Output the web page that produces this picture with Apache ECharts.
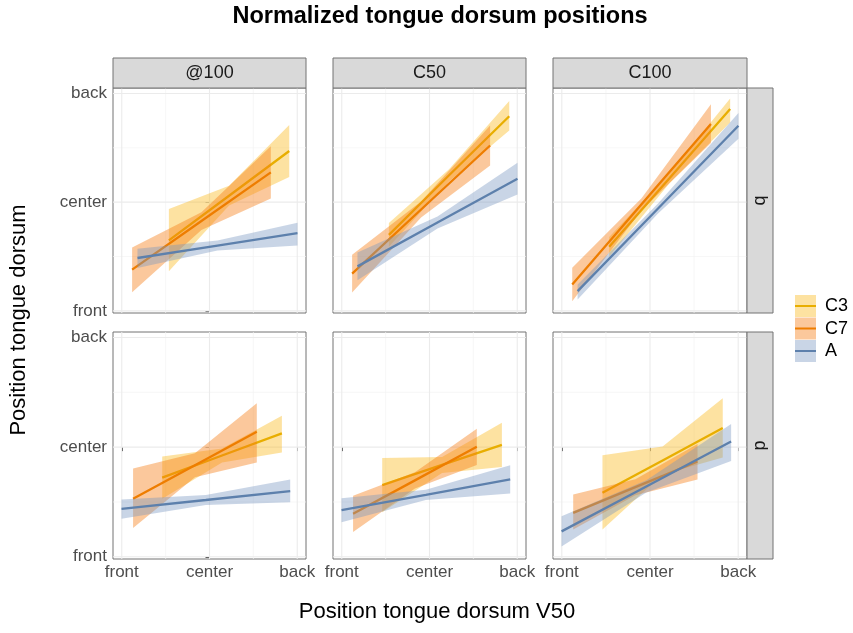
<!DOCTYPE html>
<html><head><meta charset="utf-8">
<script src="https://cdn.jsdelivr.net/npm/echarts@6/dist/echarts.min.js"></script>
<style>html,body{margin:0;padding:0;background:#fff}#c{width:853px;height:633px}</style>
</head><body><div id="c"></div><script>
// ---------- facets, groups, ticks ----------
const columns = ['@100', 'C50', 'C100'];
const rows = ['b', 'd'];
const groups = ['C3', 'C7', 'A'];
const tickValues = [-1, 0, 1];
const tickLabels = ['front', 'center', 'back'];
const minorValues = [-0.5, 0.5];

// ---------- smooth fits: [x, fit, lower, upper] ----------
const b_at100_C3 = [[-0.463, -0.352, -0.637, -0.064], [0.223, 0.059, -0.032, 0.151], [0.909, 0.470, 0.231, 0.710]];
const b_at100_C7 = [[-0.882, -0.621, -0.828, -0.417], [-0.092, -0.174, -0.256, -0.092], [0.699, 0.274, 0.034, 0.514]];
const b_at100_A  = [[-0.821, -0.514, -0.605, -0.429], [0.091, -0.400, -0.446, -0.354], [1.003, -0.286, -0.399, -0.189]];

const b_C50_C3 = [[-0.463, -0.301, -0.411, -0.191], [0.223, 0.247, 0.192, 0.302], [0.909, 0.790, 0.660, 0.930]];
const b_C50_C7 = [[-0.882, -0.658, -0.832, -0.484], [-0.096, -0.068, -0.141, 0.005], [0.691, 0.521, 0.338, 0.704]];
const b_C50_A  = [[-0.821, -0.591, -0.719, -0.463], [0.091, -0.187, -0.242, -0.132], [1.003, 0.216, 0.070, 0.362]];

const b_C100_C3 = [[-0.463, -0.411, -0.502, -0.320], [0.223, 0.222, 0.176, 0.268], [0.909, 0.856, 0.733, 0.953]];
const b_C100_C7 = [[-0.882, -0.758, -0.913, -0.603], [-0.096, -0.020, -0.075, 0.035], [0.691, 0.719, 0.545, 0.901]];
const b_C100_A  = [[-0.821, -0.819, -0.895, -0.758], [0.091, -0.058, -0.104, -0.012], [1.003, 0.703, 0.582, 0.819]];

const d_at100_C3 = [[-0.539, -0.278, -0.471, -0.085], [0.143, -0.076, -0.140, -0.012], [0.825, 0.126, -0.049, 0.287]];
const d_at100_C7 = [[-0.871, -0.471, -0.737, -0.195], [-0.166, -0.165, -0.275, -0.055], [0.539, 0.140, -0.140, 0.401]];
const d_at100_A  = [[-1.003, -0.562, -0.654, -0.477], [-0.042, -0.482, -0.528, -0.436], [0.920, -0.401, -0.502, -0.294]];

const d_C50_C3 = [[-0.539, -0.346, -0.594, -0.098], [0.143, -0.162, -0.235, -0.089], [0.825, 0.021, -0.181, 0.223]];
const d_C50_C7 = [[-0.871, -0.608, -0.773, -0.443], [-0.166, -0.303, -0.376, -0.230], [0.539, 0.003, -0.162, 0.168]];
const d_C50_A  = [[-1.003, -0.575, -0.685, -0.465], [-0.042, -0.435, -0.481, -0.389], [0.920, -0.294, -0.422, -0.166]];

const d_C100_C3 = [[-0.539, -0.416, -0.752, -0.073], [0.143, -0.121, -0.249, 0.007], [0.825, 0.174, -0.094, 0.447]];
const d_C100_C7 = [[-0.871, -0.599, -0.752, -0.431], [-0.166, -0.365, -0.438, -0.292], [0.539, -0.131, -0.294, 0.028]];
const d_C100_A  = [[-1.003, -0.768, -0.906, -0.630], [-0.042, -0.358, -0.413, -0.303], [0.920, 0.052, -0.126, 0.211]];

const panelData = [
  [b_at100_C3, b_at100_C7, b_at100_A], [b_C50_C3, b_C50_C7, b_C50_A], [b_C100_C3, b_C100_C7, b_C100_A],
  [d_at100_C3, d_at100_C7, d_at100_A], [d_C50_C3, d_C50_C7, d_C50_A], [d_C100_C3, d_C100_C7, d_C100_A]
];

// ---------- styling / layout ----------
const FONT = '"Liberation Sans", Arial, Helvetica, sans-serif';
const lineColors = ['#E8AE00', '#EE7D00', '#5D80AC'];
const bandColors = ['rgba(250,187,30,0.42)', 'rgba(245,125,20,0.42)', 'rgba(120,150,192,0.40)'];
const colLeft = [113, 333, 553], colWidth = [193, 193, 194];
const rowTop = [88, 332], rowHeight = [225, 227];
const xRange = [-1.1, 1.1], yRange = [-1.02, 1.05];

const chart = echarts.init(document.getElementById('c'), null, { renderer: 'canvas' });
const grid = [], xAxis = [], yAxis = [], series = [];
const labelFmt = v => { const i = tickValues.indexOf(v); return i >= 0 ? tickLabels[i] : ''; };

for (let r = 0; r < 2; r++) {
  for (let c = 0; c < 3; c++) {
    const i = r * 3 + c;
    grid.push({ left: colLeft[c], top: rowTop[r], width: colWidth[c], height: rowHeight[r],
      show: true, borderColor: '#737373', borderWidth: 1, backgroundColor: '#fff', containLabel: false });
    xAxis.push({ gridIndex: i, type: 'value', min: xRange[0], max: xRange[1], show: r === 1,
      axisLine: { show: false }, splitLine: { show: false },
      axisTick: { show: true, customValues: tickValues, length: 4, lineStyle: { color: '#333', width: 1 } },
      axisLabel: { show: true, customValues: tickValues, formatter: labelFmt, color: '#4d4d4d',
        fontSize: 17, fontFamily: FONT, margin: 5 } });
    yAxis.push({ gridIndex: i, type: 'value', min: yRange[0], max: yRange[1], show: c === 0,
      axisLine: { show: false }, splitLine: { show: false },
      axisTick: { show: true, customValues: tickValues, length: 4, lineStyle: { color: '#333', width: 1 } },
      axisLabel: { show: true, customValues: tickValues, formatter: labelFmt, color: '#4d4d4d',
        fontSize: 17, fontFamily: FONT, margin: 6 } });
    // panel grid lines (drawn through the axes' scales)
    series.push({ type: 'custom', xAxisIndex: i, yAxisIndex: i, data: [[xRange[0], yRange[0]]], z: 1, silent: true,
      renderItem: (p, api) => {
        const ch = [];
        const add = (a, b, col, w) => ch.push({ type: 'line', shape: { x1: a[0], y1: a[1], x2: b[0], y2: b[1] },
          style: { stroke: col, lineWidth: w } });
        minorValues.forEach(v => {
          add(api.coord([v, yRange[0]]), api.coord([v, yRange[1]]), '#f3f3f3', 0.7);
          add(api.coord([xRange[0], v]), api.coord([xRange[1], v]), '#f3f3f3', 0.7);
        });
        tickValues.forEach(v => {
          add(api.coord([v, yRange[0]]), api.coord([v, yRange[1]]), '#ebebeb', 1.1);
          add(api.coord([xRange[0], v]), api.coord([xRange[1], v]), '#ebebeb', 1.1);
        });
        return { type: 'group', children: ch };
      } });
    panelData[i].forEach((d, g) => {
      series.push({ type: 'custom', name: groups[g], xAxisIndex: i, yAxisIndex: i, data: d, z: 2 + 2 * g,
        silent: true, encode: { x: 0, y: [1, 2, 3] },
        renderItem: (p, api) => {
          if (p.dataIndex !== 0) return null;
          const up = d.map(row => api.coord([row[0], row[3]]));
          const lo = d.map(row => api.coord([row[0], row[2]])).reverse();
          return { type: 'polygon', shape: { points: up.concat(lo) }, style: { fill: bandColors[g] } };
        } });
      series.push({ type: 'line', name: groups[g], xAxisIndex: i, yAxisIndex: i, z: 3 + 2 * g,
        data: d.map(row => [row[0], row[1]]), showSymbol: false, symbol: 'none', silent: true,
        lineStyle: { color: lineColors[g], width: 2.3 } });
    });
  }
}

// ---------- strips, titles, legend ----------
const graphic = [];
columns.forEach((t, c) => {
  graphic.push({ type: 'rect', shape: { x: colLeft[c], y: 58, width: colWidth[c], height: 30 },
    style: { fill: '#d9d9d9', stroke: '#737373', lineWidth: 1 }, z: 10 });
  graphic.push({ type: 'text', x: colLeft[c] + colWidth[c] / 2, y: 73, z: 11,
    style: { text: t, font: '18px ' + FONT, fill: '#1a1a1a', align: 'center', verticalAlign: 'middle' } });
});
rows.forEach((t, r) => {
  graphic.push({ type: 'rect', shape: { x: 747, y: rowTop[r], width: 26, height: rowHeight[r] },
    style: { fill: '#d9d9d9', stroke: '#737373', lineWidth: 1 }, z: 10 });
  graphic.push({ type: 'text', x: 760, y: rowTop[r] + rowHeight[r] / 2, rotation: -Math.PI / 2, z: 11,
    style: { text: t, font: '18px ' + FONT, fill: '#1a1a1a', align: 'center', verticalAlign: 'middle' } });
});
graphic.push({ type: 'text', x: 440, y: 17, z: 11,
  style: { text: 'Normalized tongue dorsum positions', font: 'bold 23.5px ' + FONT, fill: '#000',
    align: 'center', verticalAlign: 'middle' } });
graphic.push({ type: 'text', x: 437, y: 612, z: 11,
  style: { text: 'Position tongue dorsum V50', font: '22px ' + FONT, fill: '#000',
    align: 'center', verticalAlign: 'middle' } });
graphic.push({ type: 'text', x: 19, y: 320, rotation: Math.PI / 2, z: 11,
  style: { text: 'Position tongue dorsum', font: '22px ' + FONT, fill: '#000',
    align: 'center', verticalAlign: 'middle' } });
groups.forEach((g, k) => {
  const y0 = 295 + k * 22.5;
  graphic.push({ type: 'rect', shape: { x: 795, y: y0, width: 21, height: 22 },
    style: { fill: bandColors[k] }, z: 10 });
  graphic.push({ type: 'line', shape: { x1: 795, y1: y0 + 11, x2: 816, y2: y0 + 11 },
    style: { stroke: lineColors[k], lineWidth: 2 }, z: 11 });
  graphic.push({ type: 'text', x: 825, y: y0 + 11.5, z: 11,
    style: { text: g, font: '18px ' + FONT, fill: '#000', align: 'left', verticalAlign: 'middle' } });
});

chart.setOption({ animation: false, backgroundColor: '#fff', grid, xAxis, yAxis, series, graphic });
</script></body></html>
